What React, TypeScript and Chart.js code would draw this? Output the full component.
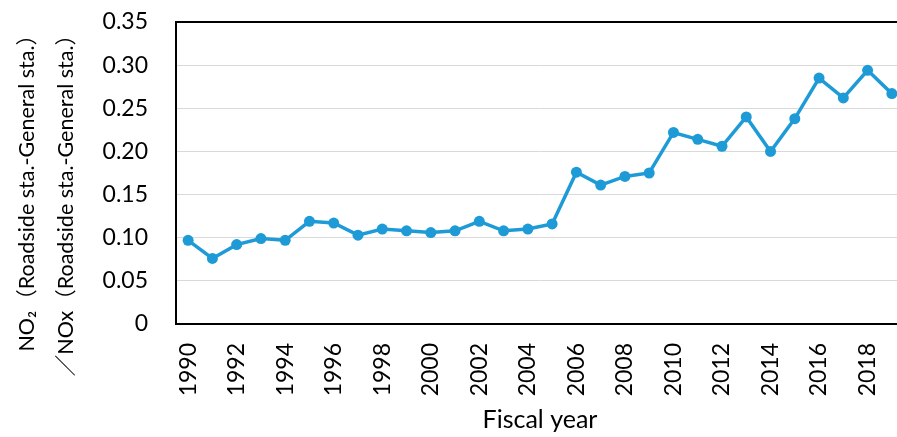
import React, { useEffect, useRef } from "react";
import { Chart, registerables } from "chart.js";

Chart.register(...registerables);

const YEARS: string[] = [
  "1990", "1991", "1992", "1993", "1994", "1995", "1996", "1997", "1998", "1999",
  "2000", "2001", "2002", "2003", "2004", "2005", "2006", "2007", "2008", "2009",
  "2010", "2011", "2012", "2013", "2014", "2015", "2016", "2017", "2018", "2019",
];

const RATIO: number[] = [
  0.097, 0.076, 0.092, 0.099, 0.097, 0.119, 0.117, 0.103, 0.110, 0.108,
  0.106, 0.108, 0.119, 0.108, 0.110, 0.116, 0.176, 0.161, 0.171, 0.175,
  0.222, 0.214, 0.206, 0.240, 0.200, 0.238, 0.285, 0.262, 0.294, 0.267,
];

const Y_TICK_MAX = 0.35;
const Y_TICK_STEP = 0.05;

const X_TITLE = "Fiscal year";
const Y_TITLE_LINES: string[] = [
  "NO₂（Roadside sta.-General sta.）",
  "／NOx（Roadside sta.-General sta.）",
];

const FONT = 'Lato, "Noto Sans CJK JP", sans-serif';
const LINE_COLOR = "#1E9BD7";

const CANVAS_W = 920;
const CANVAS_H = 437;
const Y_TITLE_X = [27, 66];
const Y_TITLE_TOP = 24;
const Y_TITLE_SIZE = 21.5;

const yTitlePlugin = {
  id: "yTitleLines",
  afterDraw(chart: any) {
    const ctx = chart.ctx as CanvasRenderingContext2D;
    ctx.save();
    ctx.fillStyle = "#000";
    ctx.font = `${Y_TITLE_SIZE}px ${FONT}`;
    ctx.textAlign = "right";
    ctx.textBaseline = "middle";
    Y_TITLE_LINES.forEach((line, i) => {
      ctx.save();
      ctx.translate(Y_TITLE_X[i], Y_TITLE_TOP);
      ctx.rotate(-Math.PI / 2);
      ctx.fillText(line, 0, 0);
      ctx.restore();
    });
    ctx.restore();
  },
};

const zeroPad = (s: any) => {
  s.paddingTop = 0;
  s.paddingBottom = 0;
  s.paddingLeft = 0;
  s.paddingRight = 0;
};

export default function App() {
  const ref = useRef<HTMLCanvasElement | null>(null);

  useEffect(() => {
    if (!ref.current) return;
    const chart = new Chart(ref.current, {
      type: "line",
      data: {
        labels: YEARS,
        datasets: [
          {
            data: RATIO,
            borderColor: LINE_COLOR,
            backgroundColor: LINE_COLOR,
            borderWidth: 3.5,
            pointRadius: 5.5,
            pointBorderWidth: 0,
            pointBackgroundColor: LINE_COLOR,
            tension: 0,
          },
        ],
      },
      options: {
        animation: false,
        responsive: false,
        devicePixelRatio: 1,
        layout: { padding: { top: 22, right: 16, bottom: 0, left: 0 } },
        plugins: {
          legend: { display: false },
          tooltip: { enabled: false },
        },
        scales: {
          x: {
            type: "category",
            offset: true,
            afterFit: (s: any) => {
              s.height = 113;
              zeroPad(s);
            },
            grid: { display: false, drawTicks: false },
            border: { display: true, color: "#000", width: 2 },
            ticks: {
              autoSkip: false,
              minRotation: 90,
              maxRotation: 90,
              padding: 19,
              color: "#000",
              font: { family: FONT, size: 23 },
              callback: (_v: any, i: number) => (i % 2 === 0 ? YEARS[i] : ""),
            },
            title: {
              display: true,
              text: X_TITLE,
              color: "#000",
              font: { family: FONT, size: 25 },
              padding: { top: 0, bottom: 2 },
            },
          },
          y: {
            min: 0,
            max: Y_TICK_MAX,
            afterFit: (s: any) => {
              s.width = 176;
              zeroPad(s);
            },
            grid: {
              drawTicks: false,
              color: (c: any) => (c.index === 7 ? "#000" : "#D9D9D9"),
              lineWidth: (c: any) => (c.index === 7 ? 2 : 1),
            },
            border: { display: true, color: "#000", width: 2 },
            ticks: {
              stepSize: Y_TICK_STEP,
              padding: 28,
              color: "#000",
              font: { family: FONT, size: 23 },
              callback: (v: any) => (Number(v) === 0 ? "0" : Number(v).toFixed(2)),
            },
          },
        },
      },
      plugins: [yTitlePlugin],
    } as any);
    return () => chart.destroy();
  }, []);

  return (
    <div
      style={{
        position: "fixed",
        left: 0,
        top: 0,
        width: 897,
        height: 437,
        overflow: "hidden",
        background: "#fff",
      }}
    >
      <canvas
        ref={ref}
        width={CANVAS_W}
        height={CANVAS_H}
        style={{ display: "block", width: CANVAS_W, height: CANVAS_H }}
      />
    </div>
  );
}
